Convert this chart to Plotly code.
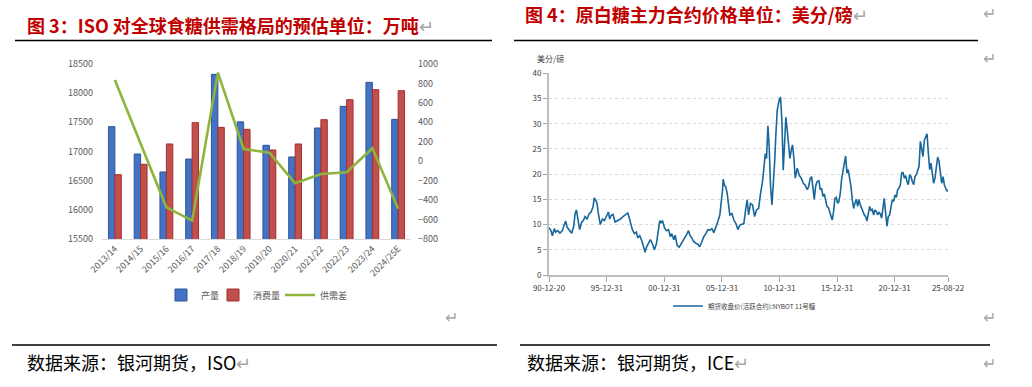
import plotly.graph_objects as go
import pandas as pd

# ---------------- Left chart data (ISO supply/demand, 万吨) ----------------
seasons = ["2013/14", "2014/15", "2015/16", "2016/17", "2017/18", "2018/19",
           "2019/20", "2020/21", "2021/22", "2022/23", "2023/24", "2024/25E"]
production = [17426, 16957, 16649, 16871, 18323, 17508, 17106, 16906, 17403, 17774, 18186, 17551]
consumption = [16603, 16780, 17129, 17494, 17414, 17380, 17026, 17129, 17546, 17889, 18060, 18043]
balance = [835, 184, -474, -611, 911, 126, 88, -227, -131, -114, 133, -488]

# ---------------- Right chart data (NYBOT No.11 sugar, cents/lb) ----------------
price_year = [
    1990.97, 1991.14, 1991.26, 1991.43, 1991.55, 1991.72, 1991.92, 1992.13, 1992.30, 1992.42,
    1992.53, 1992.71, 1992.94, 1993.11, 1993.23, 1993.35, 1993.46, 1993.63, 1993.81, 1993.95,
    1994.10, 1994.27, 1994.45, 1994.62, 1994.79, 1994.91, 1995.03, 1995.14, 1995.26, 1995.43,
    1995.61, 1995.78, 1995.95, 1996.13, 1996.24, 1996.36, 1996.53, 1996.71, 1996.94, 1997.17,
    1997.40, 1997.63, 1997.81, 1997.92, 1998.10, 1998.21, 1998.39, 1998.56, 1998.68, 1998.85,
    1999.03, 1999.20, 1999.32, 1999.43, 1999.61, 1999.78, 1999.95, 2000.13, 2000.30, 2000.48,
    2000.59, 2000.71, 2000.82, 2001.00, 2001.17, 2001.35, 2001.52, 2001.63, 2001.81, 2001.93,
    2002.10, 2002.28, 2002.45, 2002.63, 2002.80, 2002.97, 2003.09, 2003.21, 2003.38, 2003.55,
    2003.73, 2003.90, 2004.07, 2004.25, 2004.42, 2004.60, 2004.77, 2004.94, 2005.12, 2005.29,
    2005.47, 2005.64, 2005.81, 2005.93, 2006.05, 2006.10, 2006.22, 2006.34, 2006.45, 2006.57,
    2006.68, 2006.86, 2007.03, 2007.21, 2007.38, 2007.55, 2007.73, 2007.90, 2008.07, 2008.19,
    2008.31, 2008.48, 2008.65, 2008.83, 2009.00, 2009.18, 2009.35, 2009.52, 2009.64, 2009.76,
    2009.87, 2009.99, 2010.10, 2010.22, 2010.34, 2010.45, 2010.57, 2010.68, 2010.80, 2010.97,
    2011.09, 2011.21, 2011.32, 2011.44, 2011.55, 2011.67, 2011.78, 2011.90, 2012.02, 2012.13,
    2012.25, 2012.36, 2012.54, 2012.71, 2012.89, 2013.06, 2013.23, 2013.41, 2013.52, 2013.67,
    2013.79, 2013.90, 2014.02, 2014.13, 2014.25, 2014.42, 2014.54, 2014.66, 2014.77, 2014.89,
    2015.00, 2015.12, 2015.24, 2015.35, 2015.47, 2015.58, 2015.70, 2015.81, 2015.93, 2016.05,
    2016.16, 2016.28, 2016.39, 2016.51, 2016.63, 2016.74, 2016.86, 2016.97, 2017.09, 2017.21,
    2017.32, 2017.44, 2017.55, 2017.67, 2017.79, 2017.90, 2018.02, 2018.13, 2018.25, 2018.37,
    2018.48, 2018.60, 2018.71, 2018.83, 2018.95, 2019.06, 2019.18, 2019.29, 2019.41, 2019.53,
    2019.64, 2019.76, 2019.87, 2019.99, 2020.10, 2020.22, 2020.34, 2020.45, 2020.57, 2020.68,
    2020.80, 2020.92, 2021.03, 2021.15, 2021.26, 2021.38, 2021.50, 2021.61, 2021.73, 2021.84,
    2021.96, 2022.08, 2022.19, 2022.31, 2022.42, 2022.54, 2022.66, 2022.77, 2022.89, 2023.00,
    2023.12, 2023.24, 2023.35, 2023.47, 2023.58, 2023.70, 2023.82, 2023.93, 2024.05, 2024.16,
    2024.28, 2024.39, 2024.51, 2024.63, 2024.74, 2024.86, 2024.97, 2025.09, 2025.21, 2025.32,
    2025.44, 2025.55, 2025.64]
price_value = [
    9.4, 8.8, 7.8, 9.2, 8.5, 8.8, 8.3, 8.8, 10.0, 10.7,
    9.5, 9.0, 8.3, 9.6, 12.1, 12.9, 11.1, 9.0, 10.5, 10.8,
    11.6, 11.1, 12.1, 12.5, 13.5, 15.3, 14.8, 14.3, 12.1, 10.0,
    11.1, 10.8, 11.6, 12.5, 11.1, 11.8, 12.0, 10.5, 10.8, 11.1,
    11.6, 12.1, 12.3, 11.5, 9.6, 9.0, 8.2, 8.5, 7.4, 7.8,
    6.8, 5.5, 4.5, 5.5, 6.3, 7.0, 6.2, 5.0, 6.2, 8.8,
    10.8, 10.3, 10.8, 9.4, 8.8, 9.0, 7.6, 8.2, 7.0, 7.9,
    5.9, 5.5, 6.1, 6.9, 7.6, 8.2, 8.8, 7.9, 7.3, 6.6,
    6.3, 6.1, 5.6, 6.6, 7.6, 8.2, 9.0, 8.9, 9.2, 8.4,
    9.4, 10.6, 11.9, 13.9, 16.9, 19.0, 17.8, 17.4, 16.2, 13.9,
    11.9, 12.2, 10.9, 10.2, 9.0, 9.9, 10.1, 10.2, 13.2, 14.9,
    11.9, 14.2, 13.9, 11.6, 12.9, 13.2, 16.2, 18.5, 21.2, 24.1,
    23.1, 29.6, 25.5, 17.5, 13.9, 17.2, 22.2, 27.8, 32.7, 34.7,
    35.3, 30.4, 20.8, 26.1, 31.3, 28.8, 26.1, 23.1, 24.8, 25.8,
    23.1, 19.2, 21.2, 19.8, 19.2, 18.2, 17.8, 16.9, 17.5, 19.2,
    19.5, 17.2, 15.0, 17.5, 18.5, 18.7, 16.9, 17.2, 15.6, 16.1,
    14.6, 13.6, 13.4, 12.4, 11.9, 10.9, 12.6, 15.2, 15.4, 14.2,
    14.6, 16.2, 18.9, 20.9, 22.2, 23.6, 20.2, 20.9, 19.2, 17.5,
    14.9, 13.2, 14.2, 15.0, 13.6, 15.0, 13.9, 13.4, 12.6, 11.9,
    11.6, 10.7, 11.9, 13.6, 12.8, 13.0, 11.9, 12.9, 12.6, 11.9,
    12.4, 12.1, 11.3, 13.9, 15.2, 12.3, 9.7, 11.6, 11.9, 13.4,
    14.9, 14.6, 15.9, 15.4, 16.9, 17.2, 17.9, 20.2, 20.3, 19.2,
    19.7, 18.5, 17.9, 19.9, 19.5, 18.5, 17.9, 19.5, 19.9, 20.7,
    21.5, 26.5, 24.5, 23.5, 26.7, 27.6, 28.0, 24.2, 20.9, 22.2,
    19.5, 18.2, 19.2, 22.2, 23.4, 22.5, 20.2, 18.2, 19.5, 17.9,
    17.2, 16.6, 16.9]

price_ticks = ["1990-12-20", "1995-12-31", "2000-12-31", "2005-12-31",
               "2010-12-31", "2015-12-31", "2020-12-31", "2025-08-22"]
price_tick_text = ["90-12-20", "95-12-31", "00-12-31", "05-12-31",
                   "10-12-31", "15-12-31", "20-12-31", "25-08-22"]


def year_to_date(y):
    yr = int(y)
    start = pd.Timestamp(year=yr, month=1, day=1)
    end = pd.Timestamp(year=yr + 1, month=1, day=1)
    return start + (end - start) * (y - yr)


price_dates = [year_to_date(y) for y in price_year]

W, H = 1032, 387
FONT = "Noto Sans CJK SC"


def px(x):
    return x / W


def py(y):
    return 1 - y / H


fig = go.Figure()

fig.add_trace(go.Bar(x=seasons, y=production, name="产量", xaxis="x", yaxis="y",
                     marker=dict(color="#4472C4", line=dict(color="#2F5597", width=1)),
                     legend="legend"))
fig.add_trace(go.Bar(x=seasons, y=consumption, name="消费量", xaxis="x", yaxis="y",
                     marker=dict(color="#C0504D", line=dict(color="#A5302D", width=1)),
                     legend="legend3"))
fig.add_trace(go.Scatter(x=seasons, y=balance, name="供需差", xaxis="x", yaxis="y2",
                         mode="lines", line=dict(color="#8DB53C", width=2.6),
                         legend="legend4"))

fig.add_trace(go.Scatter(x=price_dates, y=price_value, name="期货收盘价(活跃合约):NYBOT 11号糖",
                         xaxis="x3", yaxis="y3", mode="lines",
                         line=dict(color="#17679A", width=1.6), legend="legend2"))

tick_gray = "#595959"


def leg(x, y, size, color):
    return dict(orientation="h", x=px(x), xanchor="left", y=py(y), yanchor="middle",
                font=dict(size=size, color=color), bgcolor="rgba(0,0,0,0)", itemwidth=30)


fig.update_layout(
    width=W, height=H,
    margin=dict(l=0, r=0, t=0, b=0, autoexpand=False),
    paper_bgcolor="white", plot_bgcolor="rgba(0,0,0,0)",
    font=dict(family=FONT, color=tick_gray),
    barmode="group", bargap=0.5, bargroupgap=0,
    xaxis=dict(domain=[px(102), px(411)], anchor="y", type="category",
               tickangle=-45, showline=True, linecolor="#D9D9D9", linewidth=1,
               ticks="", showgrid=False, tickfont=dict(size=9, color=tick_gray)),
    yaxis=dict(domain=[py(239), py(64)], anchor="x", range=[15500, 18500],
               tickvals=[15500, 16000, 16500, 17000, 17500, 18000, 18500],
               tickformat="d",
               showgrid=False, zeroline=False, showline=False, ticks="",
               ticklabelstandoff=8, tickfont=dict(size=9, color=tick_gray)),
    yaxis2=dict(overlaying="y", anchor="x", side="right", range=[-800, 1000],
                tickvals=[-800, -600, -400, -200, 0, 200, 400, 600, 800, 1000],
                tickformat="d",
                showgrid=False, zeroline=False, showline=False, ticks="",
                ticklabelstandoff=6, tickfont=dict(size=9, color=tick_gray)),
    xaxis3=dict(domain=[px(549), px(948)], anchor="y3", type="date",
                range=["1990-12-20", "2025-08-22"],
                tickvals=price_ticks, ticktext=price_tick_text,
                showline=True, linecolor="#BFBFBF", linewidth=1.5,
                ticks="outside", ticklen=5, tickcolor="#A6A6A6", showgrid=False,
                tickfont=dict(size=8, color="#404040")),
    yaxis3=dict(domain=[py(275), py(73.3)], anchor="x3", range=[0, 40],
                tickvals=[0, 5, 10, 15, 20, 25, 30, 35, 40],
                showgrid=True, gridcolor="#D9D9D9", griddash="dot", gridwidth=1,
                zeroline=False, showline=True, linecolor="#BFBFBF", linewidth=2,
                ticks="outside", ticklen=4, tickcolor="#A6A6A6",
                tickfont=dict(size=8, color="#404040")),
    legend=leg(161, 295, 9, tick_gray),
    legend3=leg(213, 295, 9, tick_gray),
    legend4=leg(280, 295, 9, tick_gray),
    legend2=leg(668, 306, 6.5, "#404040"),
    showlegend=True,
)

red = "#C00000"
mark = '<span style="color:#A6A6A6;font-weight:normal">↵</span>'
annotations = [
    dict(x=px(26), y=py(25), text="<b>图 3：ISO 对全球食糖供需格局的预估单位：万吨</b>" + mark,
         font=dict(size=18, color=red, family=FONT)),
    dict(x=px(524), y=py(14), text="<b>图 4：原白糖主力合约价格单位：美分/磅</b>" + mark,
         font=dict(size=18, color=red, family=FONT)),
    dict(x=px(26), y=py(362), text="数据来源：银河期货，ISO" + mark,
         font=dict(size=18, color="#000000", family=FONT)),
    dict(x=px(526), y=py(362), text="数据来源：银河期货，ICE" + mark,
         font=dict(size=18, color="#000000", family=FONT)),
    dict(x=px(536), y=py(58), text="美分/磅", font=dict(size=8, color="#404040", family=FONT)),
]
for (mx, my) in [(982, 12), (982, 57), (444, 316), (982, 316), (982, 362)]:
    annotations.append(dict(x=px(mx), y=py(my), text="↵",
                            font=dict(size=16, color="#A6A6A6", family=FONT)))
for a in annotations:
    a.update(xref="paper", yref="paper", xanchor="left", yanchor="middle",
             align="left", showarrow=False, borderpad=0)
fig.update_layout(annotations=annotations)

line_style = dict(color="#000000", width=1.5)
shapes = [
    dict(type="line", x0=px(15), x1=px(492), y0=py(40.5), y1=py(40.5), line=line_style),
    dict(type="line", x0=px(514), x1=px(978), y0=py(40.5), y1=py(40.5), line=line_style),
    dict(type="line", x0=px(12), x1=px(497), y0=py(345), y1=py(345), line=line_style),
    dict(type="line", x0=px(520), x1=px(990), y0=py(345), y1=py(345), line=line_style),
]
for s in shapes:
    s.update(xref="paper", yref="paper")
fig.update_layout(shapes=shapes)

fig.write_html("out.html",
               config={"displayModeBar": False},
               post_script="document.body.style.margin='0px';document.body.style.overflow='hidden';")
